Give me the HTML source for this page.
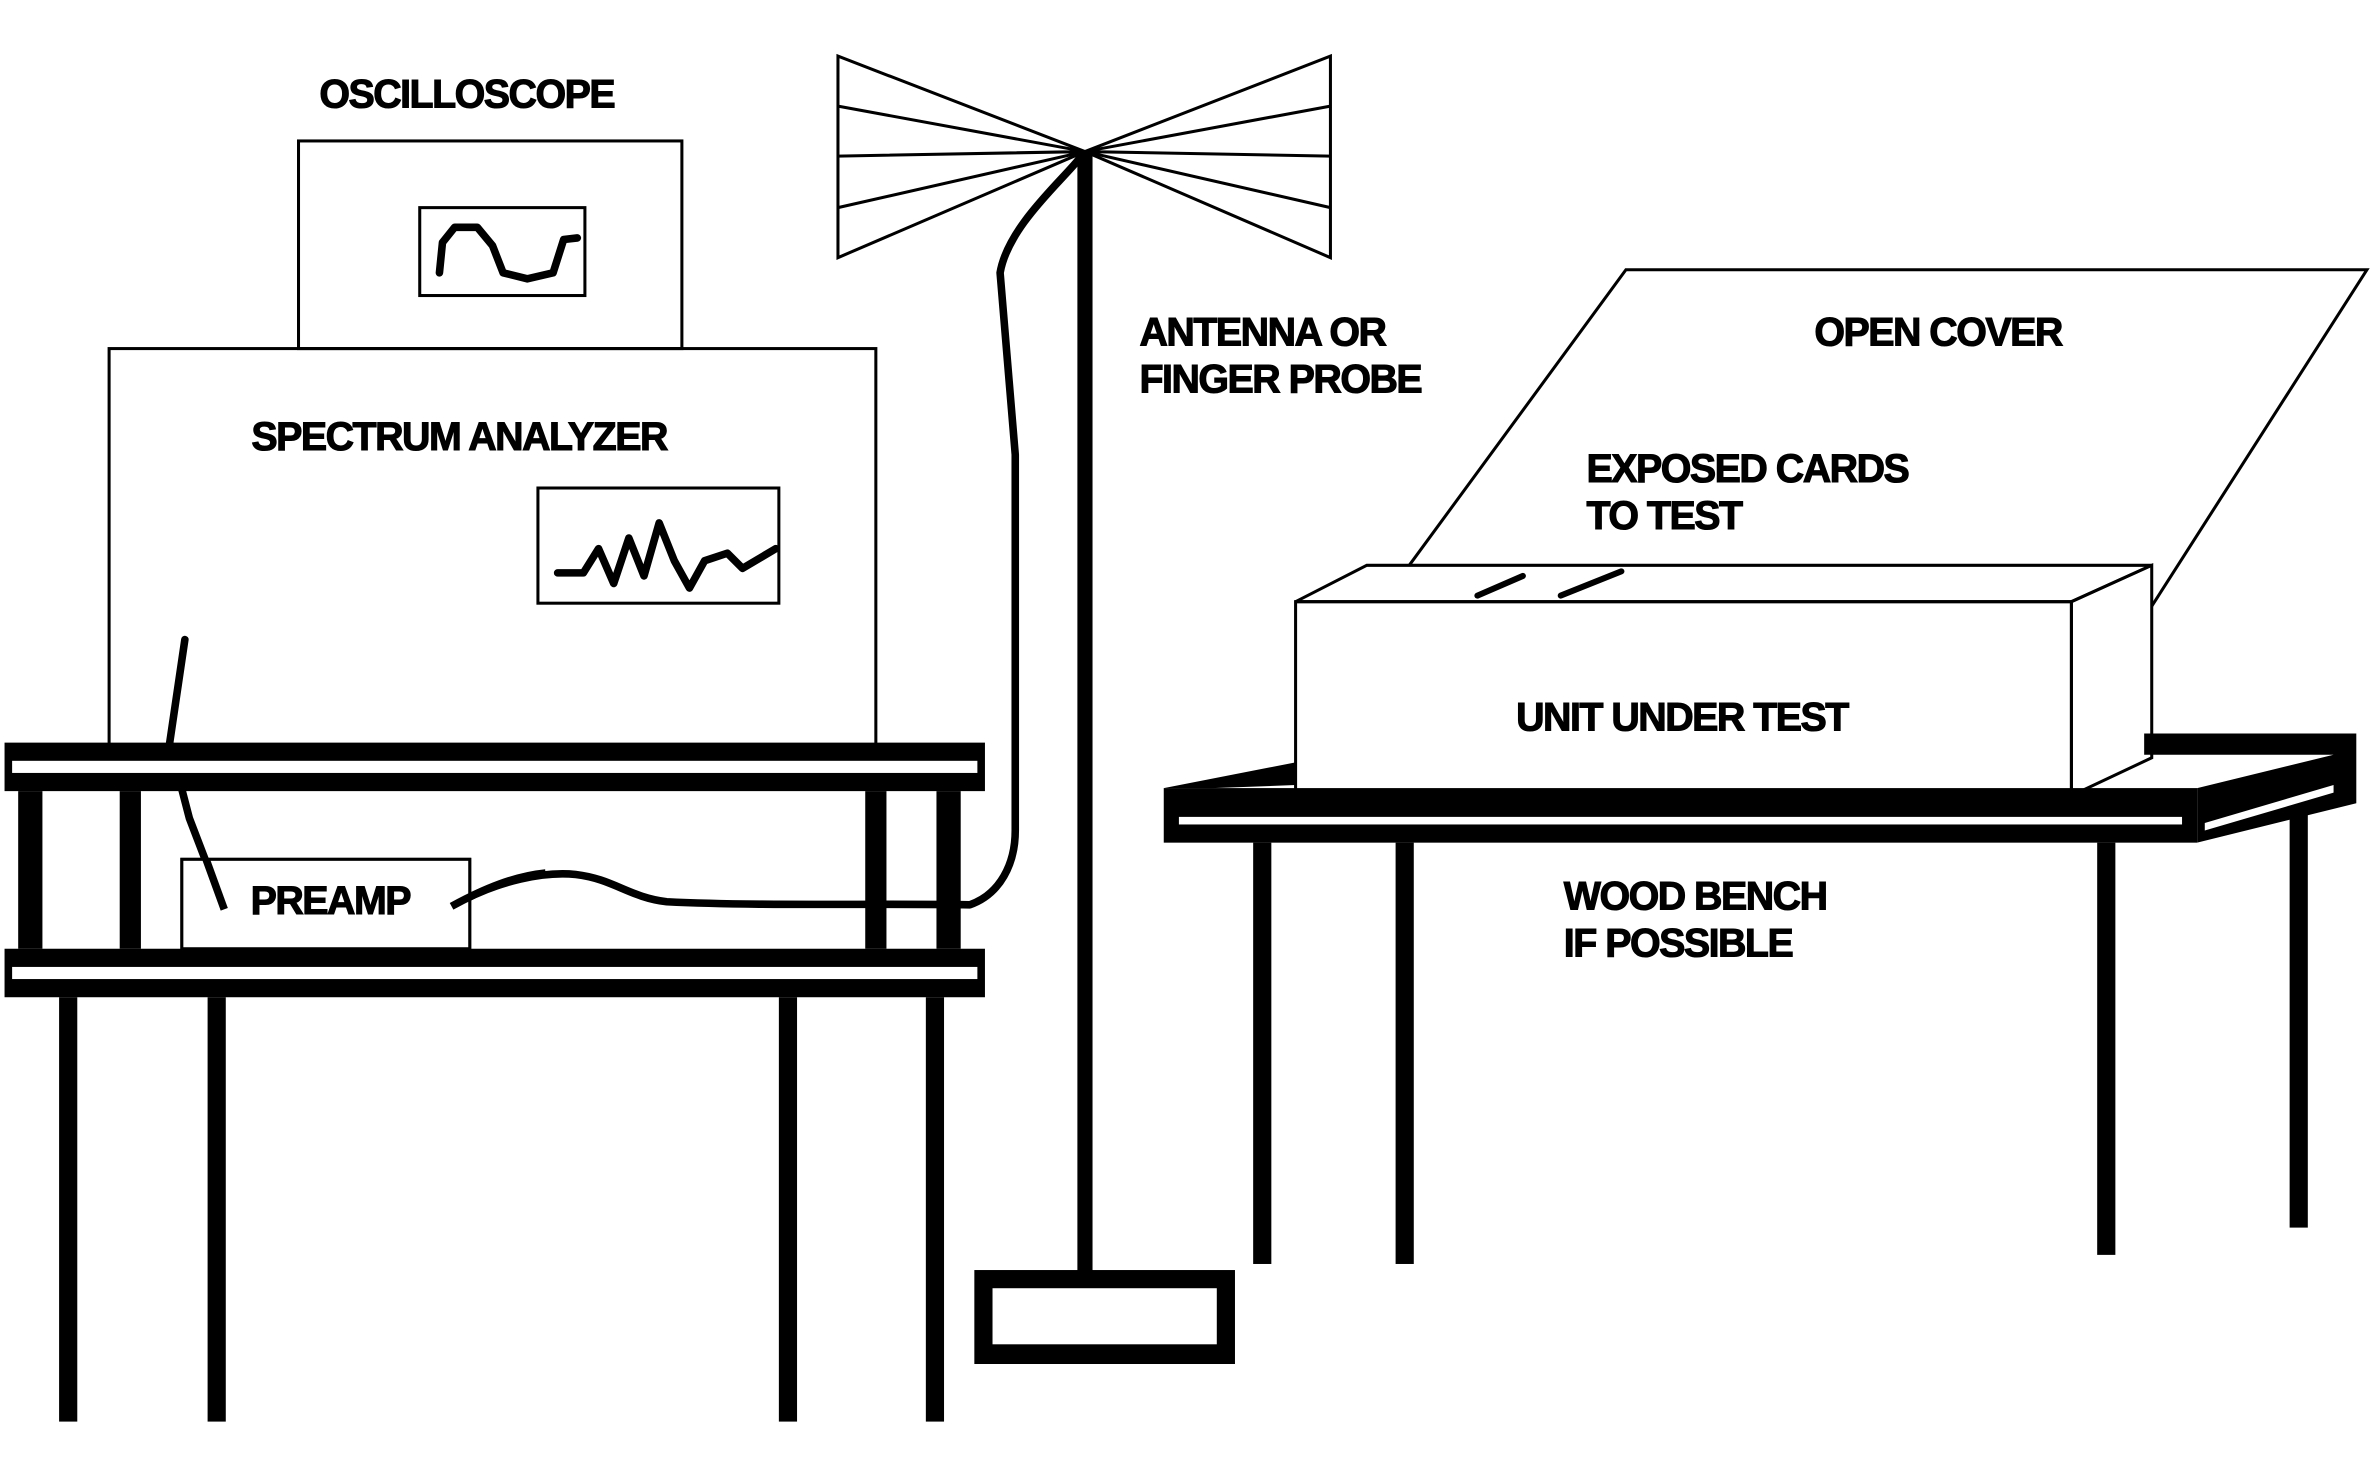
<!DOCTYPE html>
<html><head><meta charset="utf-8"><style>
html,body{margin:0;padding:0;background:#fff;}
svg{display:block;}
text{font-family:"Liberation Sans",sans-serif;font-weight:bold;font-size:26px;letter-spacing:-1px;fill:#000;stroke:#000;stroke-width:0.7px;}
</style></head><body>
<svg width="2376" height="1461" viewBox="0 0 1568 964" preserveAspectRatio="none" xmlns="http://www.w3.org/2000/svg">
<rect width="1568" height="964" fill="#fff"/>
<g fill="none" stroke="#000" stroke-width="2">
<rect x="197" y="93" width="253" height="137"/>
<rect x="277" y="137" width="109" height="58"/>
<rect x="72" y="230" width="506" height="262"/>
<rect x="355" y="322" width="159" height="76"/>
<rect x="120" y="567" width="190" height="61"/>
<polygon points="855,397 902,373 1420,373 1367,397"/>
<rect x="855" y="397" width="512" height="128"/>
<polygon points="1367,397 1420,373 1420,500 1367,525"/>
<polyline points="930,373 1073,178 1562,178 1420,400"/>
<polygon points="716,100 553,37 553,170"/>
<polygon points="716,100 878,37 878,170"/>
<path d="M716,100 L553,70 M716,100 L553,103 M716,100 L553,137 M716,100 L878,70 M716,100 L878,103 M716,100 L878,137"/>
</g>
<g fill="none" stroke="#000" stroke-width="5" stroke-linejoin="round" stroke-linecap="round">
<path d="M290,180 L292,160 L300,150 L315,150 L325,162 L332,180 L348,184 L365,180 L372,158 L381,157"/>
<path d="M368,378 L385,378 L395,362 L405,385 L415,355 L425,380 L435,345 L445,370 L455,388 L465,370 L480,365 L490,375 L512,362"/>
<path d="M122,422 L112,490 L125,540 L148,600"/>
<path d="M298,598 C330,580 360,575 380,577 C405,580 415,592 440,595 C500,598 580,596 640,597 C660,590 670,570 670,548 L670,300 L660,180 C665,150 700,120 712,105"/>
<path d="M975,393 L1005,380 M1030,393 L1070,377" stroke-width="4"/>
</g>
<g fill="#000">
<rect x="3" y="490" width="647" height="32"/>
<rect x="3" y="626" width="647" height="32"/>
<rect x="12" y="522" width="16" height="104"/>
<rect x="79" y="522" width="14" height="104"/>
<rect x="571" y="522" width="14" height="104"/>
<rect x="618" y="522" width="16" height="104"/>
<rect x="39" y="658" width="12" height="280"/>
<rect x="137" y="658" width="12" height="280"/>
<rect x="514" y="658" width="12" height="280"/>
<rect x="611" y="658" width="12" height="280"/>
<rect x="711" y="100" width="10" height="770"/>
<rect x="643" y="838" width="172" height="62"/>
<rect x="768" y="520" width="682" height="36"/>
<polygon points="768,520 855,503 855,518 800,520"/>
<polygon points="1415,484 1555,484 1555,530 1450,556 1450,520 1540,498 1415,498"/>
<rect x="827" y="556" width="12" height="278"/>
<rect x="921" y="556" width="12" height="278"/>
<rect x="1384" y="556" width="12" height="272"/>
<rect x="1511" y="530" width="12" height="280"/>
</g>
<g fill="#fff">
<rect x="8" y="502" width="637" height="8"/>
<rect x="8" y="638" width="637" height="8"/>
<rect x="655" y="850" width="148" height="37"/>
<rect x="778" y="539" width="662" height="5"/>
<polygon points="1455,543 1540,518 1540,523 1455,548"/>
</g>
<rect x="120" y="567" width="190" height="59" fill="#fff" stroke="#000" stroke-width="2"/>
<path d="M136,567 L148,600" stroke="#000" stroke-width="5" fill="none"/>
<path d="M298,598 C320,586 340,578 360,576" stroke="#000" stroke-width="5" fill="none"/>
<text x="308" y="71" text-anchor="middle">OSCILLOSCOPE</text>
<text x="303" y="297" text-anchor="middle">SPECTRUM ANALYZER</text>
<text x="218" y="603" text-anchor="middle">PREAMP</text>
<text x="752" y="228">ANTENNA OR</text>
<text x="752" y="259">FINGER PROBE</text>
<text x="1279" y="228" text-anchor="middle">OPEN COVER</text>
<text x="1047" y="318">EXPOSED CARDS</text>
<text x="1047" y="349">TO TEST</text>
<text x="1110" y="482" text-anchor="middle">UNIT UNDER TEST</text>
<text x="1032" y="600">WOOD BENCH</text>
<text x="1032" y="631">IF POSSIBLE</text>
</svg>
</body></html>
